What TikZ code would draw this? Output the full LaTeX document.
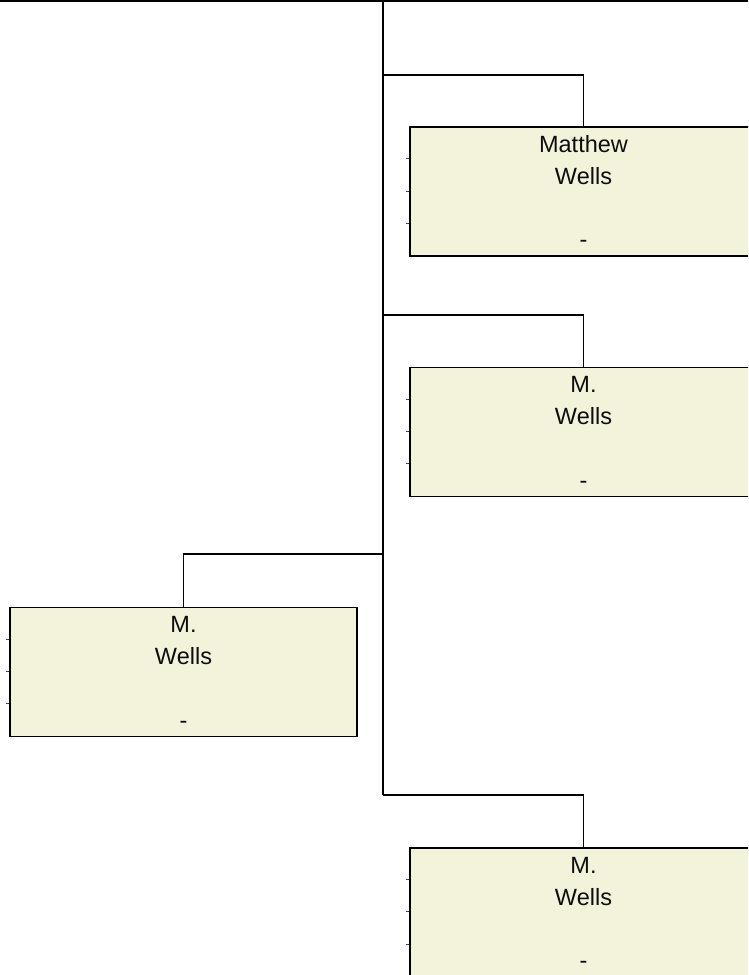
\documentclass[tikz,border=0pt]{standalone}
\usepackage{fontspec}
\setmainfont{Liberation Sans}
\definecolor{boxfill}{RGB}{243,243,219}
\begin{document}
\begin{tikzpicture}[x=1pt,y=-1pt,
  conn/.style={draw=black,line width=1.8pt},
  card/.style={rectangle,draw=black,line width=1.8pt,fill=boxfill,minimum width=347pt,minimum height=129pt,inner sep=0pt},
  txt/.style={inner sep=0pt,anchor=base,font=\fontsize{23.5}{26}\selectfont,text=black!95},
  tick/.style={draw=black!70,line width=0.8pt}]
\useasboundingbox (0,0) rectangle (748,975);
\clip (0,0) rectangle (748,975);
% top border line
\coordinate (tl) at (0,1);
\coordinate (tr) at (748,1);
\draw[conn,line width=2.6pt] (tl) -- (tr);
% trunk
\coordinate (top) at (383.3,0);
\coordinate (j1) at (383.3,75);
\coordinate (j2) at (383.3,315);
\coordinate (j3) at (383.3,554);
\coordinate (j4) at (383.3,795);
\draw[conn] (top) -- (j4);
% cards
\node[card] (b1) at (583.5,191.7) {};
\node[card] (b2) at (583.5,432) {};
\node[card] (b3) at (183.5,672) {};
\node[card] (b4) at (583.5,912.5) {};
% connectors
\draw[conn] (j1) -| (b1.north);
\draw[conn] (j2) -| (b2.north);
\draw[conn] (j3) -| (b3.north);
\draw[conn] (j4) -| (b4.north);
% texts
\node[txt] (t1a) at (583.5,152.3) {Matthew};
\node[txt] (t1b) at (583.5,184.3) {Wells};
\node[txt] (t1c) at (583.5,247.8) {-};
\node[txt] (t2a) at (583.5,392.6) {M.};
\node[txt] (t2b) at (583.5,424.6) {Wells};
\node[txt] (t2c) at (583.5,488.1) {-};
\node[txt] (t3a) at (183.5,632.6) {M.};
\node[txt] (t3b) at (183.5,664.6) {Wells};
\node[txt] (t3c) at (183.5,728.1) {-};
\node[txt] (t4a) at (583.5,873.1) {M.};
\node[txt] (t4b) at (583.5,905.1) {Wells};
\node[txt] (t4c) at (583.5,968.6) {-};
% small row ticks at the left edges
\foreach \b in {b1,b2,b3,b4}{
  \foreach \d in {32.3,64.6,96.9}{
    \draw[tick] ([xshift=-3pt,yshift=-\d pt]\b.north west) -- ([yshift=-\d pt]\b.north west);
  }
}
\end{tikzpicture}
\end{document}
